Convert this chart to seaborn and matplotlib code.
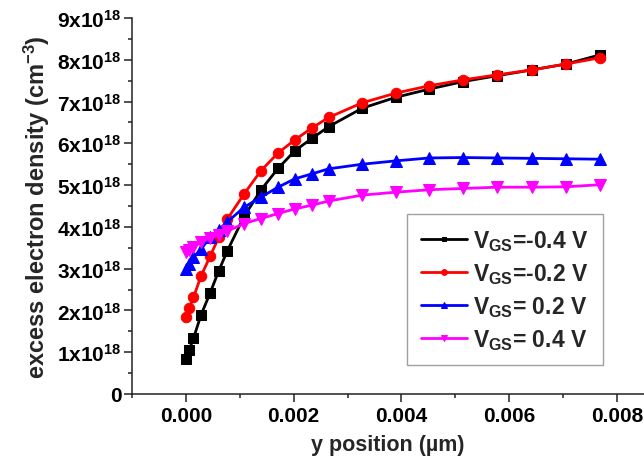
import matplotlib
matplotlib.use("Agg")
import matplotlib.pyplot as plt
import seaborn as sns
import numpy as np
from matplotlib.ticker import MultipleLocator, FuncFormatter

# ---- data (y in units of 1e18 cm^-3) ----
y_pos = [0.0, 0.00006, 0.00014, 0.00028, 0.00045, 0.00061, 0.00077, 0.00108,
         0.00139, 0.00171, 0.00202, 0.00234, 0.00265, 0.00327, 0.00389,
         0.00452, 0.00515, 0.00578, 0.00643, 0.00706, 0.00769]
vgs_m04 = [0.84, 1.05, 1.33, 1.89, 2.42, 2.95, 3.43, 4.25, 4.88, 5.40, 5.82,
           6.12, 6.40, 6.84, 7.10, 7.30, 7.48, 7.62, 7.76, 7.90, 8.12]
vgs_m02 = [1.84, 2.05, 2.31, 2.82, 3.30, 3.75, 4.19, 4.79, 5.34, 5.77, 6.08,
           6.37, 6.62, 6.97, 7.20, 7.38, 7.52, 7.64, 7.76, 7.90, 8.05]
vgs_p02 = [2.99, 3.12, 3.28, 3.46, 3.76, 3.93, 4.12, 4.47, 4.71, 4.95, 5.15,
           5.27, 5.39, 5.50, 5.58, 5.65, 5.66, 5.65, 5.64, 5.63, 5.62]
vgs_p04 = [3.41, 3.45, 3.52, 3.63, 3.73, 3.81, 3.90, 4.08, 4.20, 4.32, 4.43,
           4.52, 4.62, 4.76, 4.83, 4.89, 4.92, 4.95, 4.95, 4.96, 5.01]
labels = [r'$\mathbf{V_{GS}}$=-0.4 V', r'$\mathbf{V_{GS}}$=-0.2 V',
          r'$\mathbf{V_{GS}}$= 0.2 V', r'$\mathbf{V_{GS}}$= 0.4 V']
x_ticks = [0.000, 0.002, 0.004, 0.006, 0.008]
x_tick_labels = ["0.000", "0.002", "0.004", "0.006", "0.008"]

series = [vgs_m04, vgs_m02, vgs_p02, vgs_p04]
colors = ["#000000", "#ff0000", "#0000ff", "#ff00ff"]
markers = ["s", "o", "^", "v"]
msizes = [6.5, 7.5, 8, 8]

sns.set_style("ticks")
plt.rcParams['font.family'] = ['Liberation Sans', 'DejaVu Sans']
plt.rcParams['font.weight'] = 'bold'
plt.rcParams['mathtext.fontset'] = 'custom'
plt.rcParams['mathtext.rm'] = 'Liberation Sans:bold'
plt.rcParams['mathtext.it'] = 'Liberation Sans:bold'
plt.rcParams['mathtext.bf'] = 'Liberation Sans:bold'

fig = plt.figure(figsize=(6.44, 4.64), dpi=100)
ax = fig.add_axes([132/644, 1-395/464, 512/644, 376/464])

for ys, c, m, ms, lab in zip(series, colors, markers, msizes, labels):
    sns.lineplot(x=y_pos, y=np.array(ys) * 1e18, ax=ax, color=c, marker=m,
                 markersize=ms, markeredgecolor=c, linewidth=2.0, label=lab,
                 sort=False)

ax.set_xlim(-0.001, 0.0085)
ax.set_ylim(0, 9e18)
ax.set_xticks(x_ticks)
ax.set_xticklabels(x_tick_labels)
ax.xaxis.set_minor_locator(MultipleLocator(0.001))
ax.yaxis.set_major_locator(MultipleLocator(1e18))
ax.yaxis.set_minor_locator(MultipleLocator(0.5e18))

def yfmt(v, pos):
    n = int(round(v / 1e18))
    if n == 0:
        return "0"
    return r'$\mathbf{%dx10^{18}}$' % n
ax.yaxis.set_major_formatter(FuncFormatter(yfmt))

for s in ["top", "right"]:
    ax.spines[s].set_visible(False)
for s in ["left", "bottom"]:
    ax.spines[s].set_linewidth(1.1)
    ax.spines[s].set_color("#222222")

ax.tick_params(axis='both', which='major', direction='out', length=5.5,
               width=1.1, labelsize=15, colors="#222222", labelcolor="black")
ax.tick_params(axis='both', which='minor', direction='out', length=3,
               width=1.1, colors="#222222")
ax.tick_params(axis='y', which='major', pad=2)
for t in ax.get_xticklabels() + ax.get_yticklabels():
    t.set_fontweight('bold')

ax.set_xlabel("y position (\u00b5m)", fontsize=15.5, fontweight='bold', labelpad=6)
ax.set_ylabel(r"excess electron density (cm$^{\mathbf{-3}}$)", fontsize=17,
              fontweight='bold', labelpad=4)

leg = ax.legend(loc='upper left', bbox_to_anchor=(0.537, 0.478),
                borderaxespad=0, fontsize=16.5, frameon=True, fancybox=False,
                markerscale=0.55, handlelength=2.0, handletextpad=0.3,
                labelspacing=0.35, borderpad=0.6)
leg.get_frame().set_edgecolor("#888888")
leg.get_frame().set_linewidth(1.0)
for t in leg.get_texts():
    t.set_fontweight('bold')

fig.savefig("out.png", dpi=100)
